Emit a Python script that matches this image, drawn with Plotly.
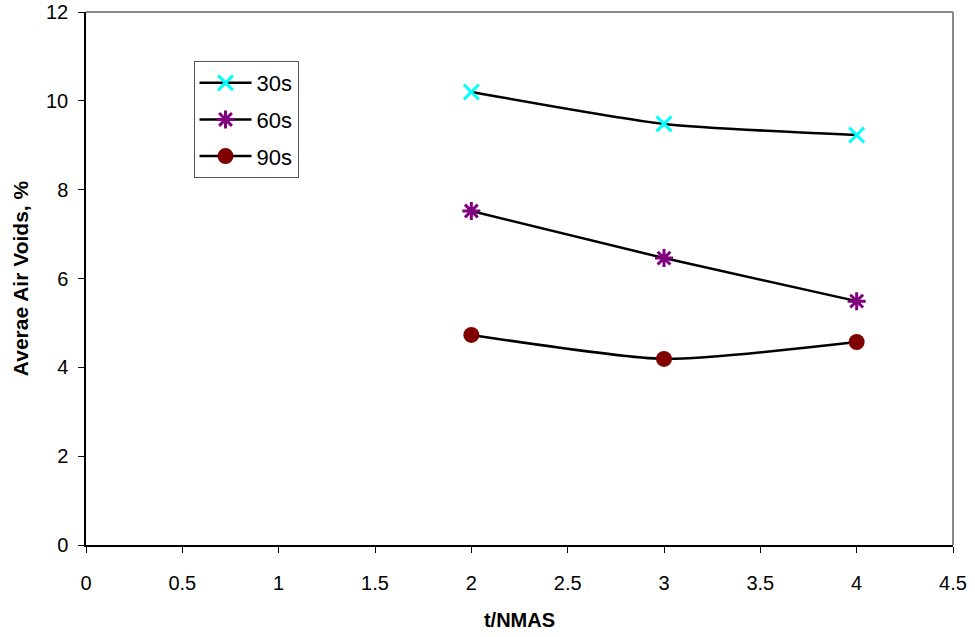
import plotly.graph_objects as go

x_vals = [2, 3, 4]
s30 = [10.2, 9.48, 9.23]
s60 = [7.52, 6.46, 5.49]
s90 = [4.73, 4.19, 4.57]
names = ["30s", "60s", "90s"]
x_ticks = [0, 0.5, 1, 1.5, 2, 2.5, 3, 3.5, 4, 4.5]
x_tick_text = ["0", "0.5", "1", "1.5", "2", "2.5", "3", "3.5", "4", "4.5"]
y_ticks = [0, 2, 4, 6, 8, 10, 12]

fig = go.Figure()
styles = [
    dict(symbol="x-thin", color="#00FFFF", size=15, line=dict(width=3, color="#00FFFF")),
    dict(symbol="asterisk", color="#800080", size=15, line=dict(width=3, color="#800080")),
    dict(symbol="circle", color="#800000", size=16, line=dict(width=0)),
]
for i, (nm, ys) in enumerate(zip(names, [s30, s60, s90])):
    fig.add_trace(go.Scatter(
        x=x_vals, y=ys, name=nm, mode="lines+markers",
        line=dict(color="black", width=2.5, shape="spline", smoothing=0.6),
        marker=styles[i], legendgroup=nm,
    ))

fig.update_layout(
    width=975, height=637,
    margin=dict(l=86, r=22, t=12, b=92),
    plot_bgcolor="white", paper_bgcolor="white",
    font=dict(family="Liberation Sans, Arial, sans-serif", size=20, color="black"),
    showlegend=True,
    legend=dict(
        x=0.124, y=0.908, xanchor="left", yanchor="top",
        bordercolor="#555555", borderwidth=1, bgcolor="white",
        font=dict(size=22), traceorder="grouped", tracegroupgap=5,
        itemwidth=52,
    ),
    xaxis=dict(
        range=[0, 4.5], tickvals=x_ticks, ticktext=x_tick_text, automargin=False,
        showgrid=False, zeroline=False, showline=True, linecolor="black", linewidth=1.5,
        ticks="outside", ticklen=6, tickcolor="black", ticklabelstandoff=13,
        tickfont=dict(size=20),
        title=dict(text="<b>t/NMAS</b>", font=dict(size=20), standoff=20),
    ),
    yaxis=dict(
        range=[0, 12], tickvals=y_ticks, automargin=False,
        showgrid=False, zeroline=False, showline=True, linecolor="black", linewidth=1.5,
        ticks="outside", ticklen=6, tickcolor="black", ticklabelstandoff=6,
        tickfont=dict(size=20),
        title=dict(text="<b>Averae Air Voids, %</b>", font=dict(size=21), standoff=12),
    ),
    shapes=[
        dict(type="line", xref="paper", yref="paper", x0=0, x1=1, y0=1, y1=1,
             line=dict(color="#888888", width=2)),
        dict(type="line", xref="paper", yref="paper", x0=1, x1=1, y0=0, y1=1,
             line=dict(color="#888888", width=2)),
    ],
)

fig.write_html("out.html")
